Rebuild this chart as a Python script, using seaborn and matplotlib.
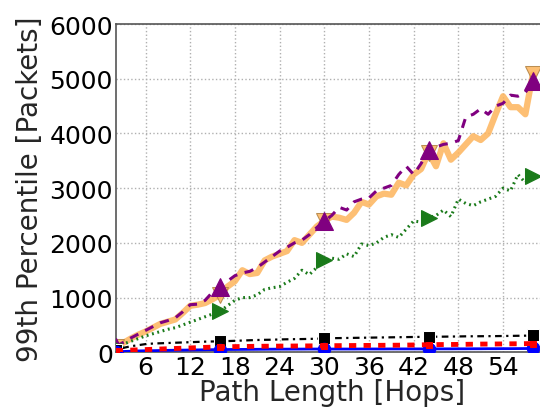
import matplotlib
matplotlib.use("Agg")
import matplotlib.pyplot as plt
import seaborn as sns
import numpy as np

# Path length in hops
hops = list(range(2, 59))

# 99th percentile queue occupancy per scheme
orange_vals = [100, 170, 250, 320, 380, 450, 520, 560, 600, 720, 850, 870, 900, 970, 1050,
               1200, 1300, 1500, 1430, 1450, 1680, 1750, 1800, 1850, 2050, 2000, 2150, 2300,
               2400, 2480, 2460, 2420, 2550, 2750, 2700, 2850, 2900, 2880, 3100, 3050, 3250,
               3350, 3650, 3400, 3820, 3520, 3650, 3800, 3950, 3880, 4000, 4350, 4680, 4480,
               4480, 4350, 5080]
purple_vals = [100, 180, 260, 330, 400, 470, 540, 580, 630, 740, 870, 880, 950, 1100, 1200,
               1300, 1400, 1450, 1480, 1550, 1650, 1750, 1850, 1920, 2000, 2050, 2150, 2280,
               2400, 2500, 2650, 2600, 2750, 2800, 2820, 2950, 3000, 3050, 3250, 3400, 3250,
               3450, 3700, 3750, 3800, 3820, 3870, 4300, 4350, 4450, 4350, 4500, 4550, 4700,
               4680, 4750, 4950]
green_vals = [100, 150, 200, 250, 300, 340, 380, 420, 450, 500, 550, 600, 650, 700, 750,
              850, 950, 1000, 1000, 1050, 1150, 1180, 1200, 1280, 1350, 1500, 1420, 1550,
              1680, 1720, 1700, 1800, 1750, 1980, 1950, 2000, 2100, 2150, 2100, 2250, 2400,
              2380, 2460, 2500, 2600, 2480, 2800, 2720, 2680, 2750, 2800, 2850, 3000, 2950,
              3250, 3100, 3230]
black_vals = [50, 80, 110, 130, 150, 160, 165, 170, 175, 180, 185, 190, 195, 198, 200,
              205, 210, 215, 220, 225, 228, 230, 235, 238, 240, 242, 245, 248, 255, 258,
              260, 262, 264, 266, 268, 270, 272, 274, 276, 278, 280, 282, 288, 285, 286,
              288, 290, 292, 293, 294, 295, 296, 298, 300, 302, 304, 310]
red_vals = [30, 35, 40, 45, 50, 55, 60, 65, 70, 75, 80, 85, 90, 95, 100,
            102, 104, 106, 108, 110, 111, 112, 113, 114, 115, 116, 117, 118, 120, 121,
            122, 123, 124, 125, 126, 127, 128, 129, 130, 132, 134, 136, 140, 141, 142,
            143, 144, 146, 148, 150, 151, 152, 153, 155, 156, 158, 160]
blue_vals = [10, 15, 20, 25, 28, 30, 33, 36, 38, 40, 42, 44, 46, 48, 50,
             51, 52, 53, 54, 55, 56, 57, 58, 58, 59, 59, 60, 60, 60, 60,
             60, 60, 60, 61, 61, 61, 61, 62, 62, 62, 62, 62, 62, 63, 63,
             63, 64, 64, 65, 65, 66, 66, 67, 67, 68, 69, 70]

x_ticks = [6, 12, 18, 24, 30, 36, 42, 48, 54]
y_ticks = [0, 1000, 2000, 3000, 4000, 5000, 6000]

sns.set_style("whitegrid")
plt.rcParams["font.family"] = ["DejaVu Sans"]

fig = plt.figure(figsize=(5.4, 4.14), dpi=100)
ax = fig.add_axes([0.2143, 0.1466, 0.800, 0.793])

every = 14
sns.lineplot(x=hops, y=orange_vals, ax=ax, color="#fdb45c", alpha=0.85, lw=4.5,
             marker="v", markersize=12, markevery=every, markeredgecolor="#b08040",
             zorder=3)
sns.lineplot(x=hops, y=purple_vals, ax=ax, color="#800080", lw=2.2, ls=(0, (3, 2.5)),
             marker="^", markersize=13, markevery=every, markeredgecolor="#800080",
             zorder=4)
sns.lineplot(x=hops, y=green_vals, ax=ax, color="#1a7a1a", lw=2.2, ls=(0, (0.6, 1.2)),
             marker=">", markersize=12, markevery=every, markeredgecolor="#1a7a1a",
             zorder=4)
sns.lineplot(x=hops, y=black_vals, ax=ax, color="black", lw=1.6, ls=(0, (1, 2, 3, 2)),
             marker="s", markersize=8, markevery=every, zorder=4)
sns.lineplot(x=hops, y=blue_vals, ax=ax, color="blue", lw=2.0, ls="-",
             marker="o", markersize=9, markevery=every, markeredgecolor="blue", zorder=4)
sns.lineplot(x=hops, y=red_vals, ax=ax, color="red", lw=3.5, ls=(0, (1.5, 1.5)),
             marker="s", markersize=5, markevery=every, markeredgecolor="red", zorder=5)

ax.set_xlim(2, 60)
ax.set_ylim(0, 6000)
ax.set_xticks(x_ticks)
ax.set_yticks(y_ticks)
ax.tick_params(axis="both", labelsize=18, length=0, colors="black")
ax.tick_params(axis="x", pad=2)
ax.tick_params(axis="y", pad=2)
ax.grid(True, color="#b0b0b0", linestyle=":", linewidth=1.0)
for sp in ax.spines.values():
    sp.set_color("#555555")
    sp.set_linewidth(1.2)

ax.set_xlabel("Path Length [Hops]", fontsize=20, labelpad=-1)
ax.set_ylabel("99th Percentile [Packets]", fontsize=20, labelpad=4)

fig.savefig("out.png", dpi=100)
